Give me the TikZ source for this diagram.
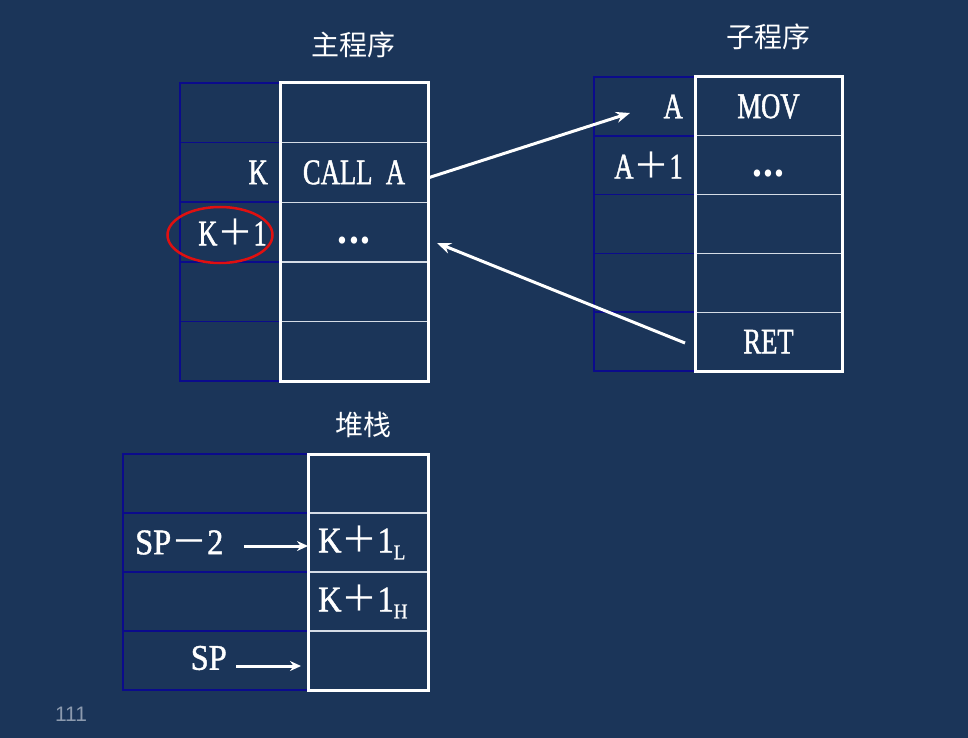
\documentclass[tikz,border=0pt]{standalone}
\usepackage{fontspec}
\setmainfont{Liberation Serif}[FakeStretch=0.74,FakeBold=1.2]
\newfontfamily\widefont{Liberation Serif}[FakeStretch=0.9,FakeBold=1.2]
\newfontfamily\dotsfont{Liberation Serif}[FakeStretch=0.9]
\newfontfamily\cjk{Noto Sans CJK SC}
\newfontfamily\pgnum{Liberation Sans}
\usetikzlibrary{arrows.meta,shapes.geometric}
\definecolor{bg}{HTML}{1B3559}
\definecolor{navyline}{HTML}{0B0B8C}
\definecolor{innerline}{HTML}{D5DCE6}
\definecolor{pgcol}{HTML}{8C9AAE}
\definecolor{ovalred}{HTML}{E01010}
\newcommand{\fwplus}{{\cjk ＋}}
\newcommand{\fwminus}{{\cjk －}}
\newcommand{\subtxt}[1]{\raisebox{-7pt}{\fontsize{21}{21}\selectfont #1}}
\newcommand{\celldots}{\vphantom{A}{\dotsfont\fontsize{44}{44}\selectfont\bfseries .\kern1.5pt.\kern1.5pt.}}
\begin{document}
\begin{tikzpicture}[x=1pt,y=-1pt,
  lcell/.style={draw=navyline,line width=1.5pt,inner sep=0pt,outer sep=0pt,anchor=north west},
  rcell/.style={draw=innerline,line width=1.4pt,inner sep=0pt,outer sep=0pt,anchor=north west,text=white,font=\fontsize{36}{40}\selectfont},
  outerbox/.style={draw=white,line width=3pt},
  lbl/.style={text=white,inner sep=0pt,font=\fontsize{36}{40}\selectfont},
  widelbl/.style={text=white,inner sep=0pt,font=\widefont\fontsize{36}{40}\selectfont},
  title/.style={text=white,inner sep=0pt,font=\cjk\fontsize{28}{32}\selectfont},
  bigarrow/.style={draw=white,line width=3pt,-{Stealth[length=14pt,width=11pt]}},
  smallarrow/.style={draw=white,line width=3pt,-{Stealth[length=11pt,width=10pt]}},
  oval/.style={draw=ovalred,line width=2.5pt,ellipse,inner sep=0pt}
]
\fill[bg] (0,0) rectangle (968,738);

% ---------- main program ----------
\node[title] (tmain) at (353,45) {主程序};
\node[lcell,minimum width=100pt,minimum height=59.6pt] (m0l) at (180,83) {};
\node[lcell,minimum width=100pt,minimum height=59.6pt] (m1l) at (m0l.south west) {};
\node[lcell,minimum width=100pt,minimum height=59.6pt] (m2l) at (m1l.south west) {};
\node[lcell,minimum width=100pt,minimum height=59.6pt] (m3l) at (m2l.south west) {};
\node[lcell,minimum width=100pt,minimum height=59.6pt] (m4l) at (m3l.south west) {};
\node[rcell,minimum width=148pt,minimum height=59.6pt] (m0r) at (m0l.north east) {};
\node[rcell,minimum width=148pt,minimum height=59.6pt] (m1r) at (m1l.north east) {CALL\ \ A};
\node[rcell,minimum width=148pt,minimum height=59.6pt] (m2r) at (m2l.north east) {\celldots};
\node[rcell,minimum width=148pt,minimum height=59.6pt] (m3r) at (m3l.north east) {};
\node[rcell,minimum width=148pt,minimum height=59.6pt] (m4r) at (m4l.north east) {};
\draw[outerbox] (m0r.north west) rectangle (m4r.south east);
\node[lbl,anchor=east] (lk) at ([xshift=-12pt]m1l.east) {K};
\node[lbl,anchor=east] (lk1) at ([xshift=-13pt]m2l.east) {K\fwplus 1};
\node[oval,minimum width=105pt,minimum height=56pt] (ring) at (220,235) {};

% ---------- subroutine ----------
\node[title] (tsub) at (768,37) {子程序};
\node[lcell,minimum width=101pt,minimum height=58.8pt] (s0l) at (594,77) {};
\node[lcell,minimum width=101pt,minimum height=58.8pt] (s1l) at (s0l.south west) {};
\node[lcell,minimum width=101pt,minimum height=58.8pt] (s2l) at (s1l.south west) {};
\node[lcell,minimum width=101pt,minimum height=58.8pt] (s3l) at (s2l.south west) {};
\node[lcell,minimum width=101pt,minimum height=58.8pt] (s4l) at (s3l.south west) {};
\node[rcell,minimum width=147pt,minimum height=58.8pt] (s0r) at (s0l.north east) {MOV};
\node[rcell,minimum width=147pt,minimum height=58.8pt] (s1r) at (s1l.north east) {\celldots};
\node[rcell,minimum width=147pt,minimum height=58.8pt] (s2r) at (s2l.north east) {};
\node[rcell,minimum width=147pt,minimum height=58.8pt] (s3r) at (s3l.north east) {};
\node[rcell,minimum width=147pt,minimum height=58.8pt] (s4r) at (s4l.north east) {RET};
\draw[outerbox] (s0r.north west) rectangle (s4r.south east);
\node[lbl,anchor=east] (la) at ([xshift=-12pt]s0l.east) {A};
\node[lbl,anchor=east] (la1) at ([xshift=-12pt]s1l.east) {A\fwplus 1};

% ---------- stack ----------
\node[title] (tstack) at (363,425) {堆栈};
\node[lcell,minimum width=185pt,minimum height=59pt] (st0l) at (123,454) {};
\node[lcell,minimum width=185pt,minimum height=59pt] (st1l) at (st0l.south west) {};
\node[lcell,minimum width=185pt,minimum height=59pt] (st2l) at (st1l.south west) {};
\node[lcell,minimum width=185pt,minimum height=59pt] (st3l) at (st2l.south west) {};
\node[rcell,minimum width=120pt,minimum height=59pt] (st0r) at (st0l.north east) {};
\node[rcell,minimum width=120pt,minimum height=59pt] (st1r) at (st1l.north east) {};
\node[rcell,minimum width=120pt,minimum height=59pt] (st2r) at (st2l.north east) {};
\node[rcell,minimum width=120pt,minimum height=59pt] (st3r) at (st3l.north east) {};
\draw[outerbox] (st0r.north west) rectangle (st3r.south east);
\node[widelbl,anchor=west] (kl) at ([xshift=10pt]st1r.west) {K\fwplus 1\subtxt{L}};
\node[widelbl,anchor=west] (kh) at ([xshift=10pt]st2r.west) {K\fwplus 1\subtxt{H}};
\node[widelbl,anchor=west] (sp2) at ([xshift=12pt]st1l.west) {SP\fwminus 2};
\node[widelbl,anchor=east] (sp) at (227,658) {SP};

% ---------- arrows ----------
\coordinate (callend) at (630,113);
\coordinate (retstart) at (685,343);
\coordinate (retend) at (437,243);
\coordinate (sp2start) at (244,546);
\coordinate (spstart) at (236,666);
\coordinate (spend) at (301,666);
\draw[bigarrow] ([yshift=-5.5pt]m1r.east) -- (callend);
\draw[bigarrow] (retstart) -- (retend);
\draw[smallarrow] (sp2start) -- ([yshift=-3.5pt]st1r.west);
\draw[smallarrow] (spstart) -- (spend);

% page number
\node[text=pgcol,inner sep=0pt,font=\pgnum\fontsize{21}{24}\selectfont] (pg) at (71,714) {111};
\end{tikzpicture}
\end{document}
